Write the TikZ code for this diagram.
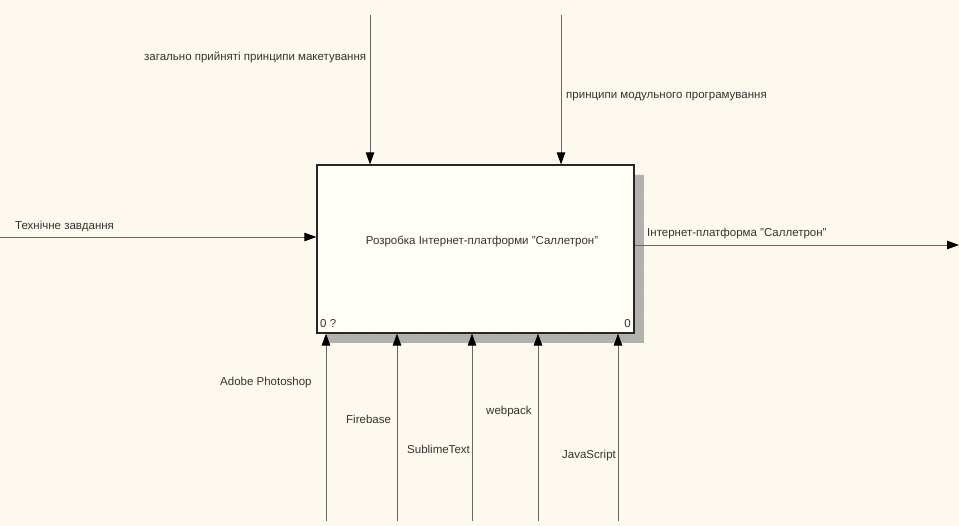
\documentclass[tikz,border=0pt]{standalone}
\usepackage{fontspec}
\setmainfont{Liberation Sans}
\usetikzlibrary{arrows.meta,patterns}
\definecolor{bgcol}{HTML}{FDF9EF}
\definecolor{boxcol}{HTML}{FFFDF6}
\definecolor{linecol}{HTML}{666666}
\definecolor{txtcol}{HTML}{333333}
\definecolor{shadowcol}{HTML}{B4B4B0}
\newcommand{\sq}{\char34\relax}
\tikzset{
  lbl/.style={font=\fontsize{11.5}{13}\selectfont, text=txtcol, inner sep=0pt, anchor=west},
  arr/.style={draw=linecol, line width=0.9pt, -{Triangle[length=12pt,width=8.5pt,fill=black,color=black]}},
  funcbox/.style={draw=black!85, line width=1.2pt, fill=boxcol, minimum width=317pt, minimum height=168pt, inner sep=0pt},
}
\begin{document}
\begin{tikzpicture}[x=1pt,y=-1pt]
\fill[bgcol] (0,0) rectangle (959,526);
\useasboundingbox (0,0) rectangle (959,526);
% shadow
\fill[shadowcol] (327,175) rectangle (644,343);
\fill[pattern=crosshatch dots, pattern color=gray!70] (327,175) rectangle (644,343);
\node[funcbox] (box) at (475.5,249) {};
\node[lbl, anchor=center] (title) at (482,241) {Розробка Інтернет-платформи \sq Саллетрон\sq};
\node[lbl] (n0a) at (320,324) {0 ?};
\node[lbl, anchor=east] (n0b) at (631,324) {0};
% controls
\coordinate (c1) at (370,15);
\coordinate (c2) at (561,15);
\draw[arr] (c1) -- (c1 |- box.north);
\draw[arr] (c2) -- (c2 |- box.north);
\node[lbl] (lc1) at (144,57) {загально прийняті принципи макетування};
\node[lbl] (lc2) at (566,97) {принципи модульного програмування};
% input
\coordinate (i1) at (0,237);
\draw[arr] (i1) -- (i1 -| box.west);
\node[lbl] (li1) at (15,226) {Технічне завдання};
% output
\coordinate (o1) at (959,245);
\draw[arr] (o1 -| box.east) -- (o1);
\node[lbl] (lo1) at (647,234) {Інтернет-платформа \sq Саллетрон\sq};
% mechanisms
\foreach \x/\n in {326/m1,397/m2,472/m3,538/m4,618/m5}{
  \coordinate (\n) at (\x,521);
  \draw[arr] (\n) -- (\n |- box.south);
}
\node[lbl] (lm1) at (220,383) {Adobe Photoshop};
\node[lbl] (lm2) at (346,419) {Firebase};
\node[lbl] (lm3) at (407,449) {SublimeText};
\node[lbl] (lm4) at (486,412) {webpack};
\node[lbl] (lm5) at (562,456) {JavaScript};
\end{tikzpicture}
\end{document}
